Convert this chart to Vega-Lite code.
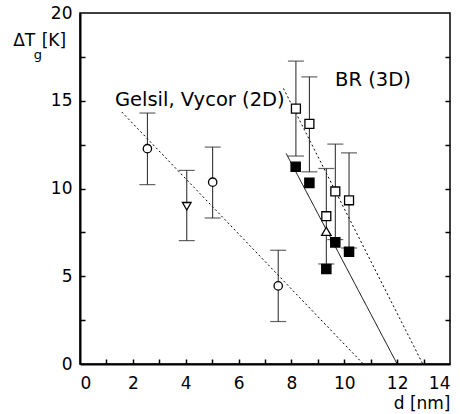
{
  "$schema": "https://vega.github.io/schema/vega-lite/v6.json",
  "width": 370,
  "height": 351,
  "autosize": "none",
  "padding": {"left": 80, "top": 13, "right": 10, "bottom": 50},
  "background": "white",
  "config": {
    "view": {"stroke": "black", "strokeWidth": 1.5},
    "font": "DejaVu Sans",
    "axis": {"grid": false, "labelFont": "DejaVu Sans", "titleFont": "DejaVu Sans", "labelColor": "black", "titleColor": "black", "domainColor": "black"}
  },
  "datasets": {
    "pts": [
      {"d": 2.55, "t": 12.27, "lo": 10.22, "hi": 14.3, "kind": "Gelsil"},
      {"d": 5.02, "t": 10.36, "lo": 8.32, "hi": 12.36, "kind": "Gelsil"},
      {"d": 7.5, "t": 4.45, "lo": 2.42, "hi": 6.48, "kind": "Gelsil"},
      {"d": 4.04, "t": 8.99, "lo": 7.03, "hi": 11.03, "kind": "Vycor"},
      {"d": 8.17, "t": 14.55, "lo": 11.85, "hi": 17.26, "kind": "BR open"},
      {"d": 8.68, "t": 13.68, "lo": 10.95, "hi": 16.36, "kind": "BR open"},
      {"d": 9.32, "t": 8.42, "lo": 5.7, "hi": 11.14, "kind": "BR open"},
      {"d": 9.66, "t": 9.83, "lo": 7.09, "hi": 12.53, "kind": "BR open"},
      {"d": 10.18, "t": 9.33, "lo": 6.61, "hi": 12.03, "kind": "BR open"},
      {"d": 8.16, "t": 11.24, "kind": "BR filled"},
      {"d": 8.68, "t": 10.32, "kind": "BR filled"},
      {"d": 9.32, "t": 5.41, "kind": "BR filled"},
      {"d": 9.66, "t": 6.93, "kind": "BR filled"},
      {"d": 10.18, "t": 6.4, "kind": "BR filled"},
      {"d": 9.32, "t": 7.56, "kind": "BR tri"}
    ],
    "fits": [
      {"series": "2D", "style": "dotted", "d": 1.58, "t": 14.36},
      {"series": "2D", "style": "dotted", "d": 10.72, "t": 0},
      {"series": "3D solid", "style": "solid", "d": 7.8, "t": 12.0},
      {"series": "3D solid", "style": "solid", "d": 12.0, "t": 0},
      {"series": "3D dotted", "style": "dotted", "d": 7.7, "t": 15.7},
      {"series": "3D dotted", "style": "dotted", "d": 12.97, "t": 0}
    ],
    "notes": [
      {"d": 1.32, "t": 15.05, "text": "Gelsil, Vycor (2D)"},
      {"d": 9.65, "t": 16.2, "text": "BR (3D)"}
    ],
    "ytitle": [
      {"d": -2.53, "t": 18.4, "text": "ΔT"},
      {"d": -1.45, "t": 18.4, "text": "[K]"}
    ],
    "sub": [
      {"d": -1.75, "t": 17.6, "text": "g"}
    ]
  },
  "resolve": {"axis": {"x": "independent", "y": "independent"}},
  "layer": [
    {
      "data": {"name": "fits"},
      "mark": {"type": "line", "color": "black", "strokeWidth": 1},
      "encoding": {
        "x": {"field": "d", "type": "quantitative", "scale": {"domain": [0, 14]},
          "axis": {"orient": "bottom", "values": [0,2,4,6,8,10,12,14], "ticks": false, "tickSize": 0, "domainWidth": 2, "labelFontSize": 17, "labelPadding": 11, "title": "d [nm]", "titleFontSize": 17, "titleFontWeight": "normal", "titleAnchor": "end", "titlePadding": 4, "zindex": 1}},
        "y": {"field": "t", "type": "quantitative", "scale": {"domain": [0, 20]},
          "axis": {"orient": "left", "values": [0,5,10,15,20], "ticks": false, "tickSize": 0, "domainWidth": 2, "labelFontSize": 17, "labelPadding": 8, "title": null, "zindex": 1}},
        "detail": {"field": "series"},
        "strokeDash": {"field": "style", "type": "nominal", "scale": {"domain": ["solid", "dotted"], "range": [[1, 0], [2, 2.5]]}, "legend": null}
      }
    },
    {
      "data": {"name": "pts"},
      "transform": [{"filter": "isValid(datum.lo)"}],
      "mark": {"type": "rule", "color": "#222", "strokeWidth": 1},
      "encoding": {
        "x": {"field": "d", "type": "quantitative",
          "axis": {"orient": "bottom", "offset": -5, "values": [1,2,3,4,5,6,7,8,9,10,11,12,13], "ticks": true, "labels": false, "domain": false, "tickSize": 5, "tickWidth": 1.5, "tickColor": "black", "title": null, "zindex": 1}},
        "y": {"field": "lo", "type": "quantitative",
          "axis": {"orient": "right", "offset": -5, "values": [2.5,5,7.5,10,12.5,15,17.5], "ticks": true, "labels": false, "tickSize": 5, "tickWidth": 1.5, "tickColor": "black", "domain": false, "title": null, "zindex": 1}},
        "y2": {"field": "hi"}
      }
    },
    {
      "data": {"name": "pts"},
      "transform": [{"filter": "isValid(datum.lo)"}],
      "mark": {"type": "tick", "orient": "horizontal", "size": 16, "thickness": 1.2, "color": "#222"},
      "encoding": {
        "x": {"field": "d", "type": "quantitative", "axis": null},
        "y": {"field": "lo", "type": "quantitative",
          "axis": {"orient": "left", "offset": -5, "values": [2.5,5,7.5,10,12.5,15,17.5], "ticks": true, "labels": false, "tickSize": 5, "tickWidth": 1.5, "tickColor": "black", "domain": false, "title": null, "zindex": 1}}
      }
    },
    {
      "data": {"name": "pts"},
      "transform": [{"filter": "isValid(datum.hi)"}],
      "mark": {"type": "tick", "orient": "horizontal", "size": 16, "thickness": 1.2, "color": "#222"},
      "encoding": {
        "x": {"field": "d", "type": "quantitative", "axis": null},
        "y": {"field": "hi", "type": "quantitative", "axis": null}
      }
    },
    {
      "data": {"name": "pts"},
      "mark": {"type": "point", "filled": false, "stroke": "black", "strokeWidth": 1.3, "opacity": 1, "fillOpacity": 1},
      "encoding": {
        "x": {"field": "d", "type": "quantitative", "axis": null},
        "y": {"field": "t", "type": "quantitative", "axis": null},
        "shape": {"field": "kind", "type": "nominal", "scale": {"domain": ["Gelsil", "Vycor", "BR open", "BR filled", "BR tri"], "range": ["circle", "triangle-down", "square", "square", "triangle-up"]}, "legend": null},
        "fill": {"field": "kind", "type": "nominal", "scale": {"domain": ["Gelsil", "Vycor", "BR open", "BR filled", "BR tri"], "range": ["white", "white", "white", "black", "white"]}, "legend": null},
        "size": {"field": "kind", "type": "nominal", "scale": {"domain": ["Gelsil", "Vycor", "BR open", "BR filled", "BR tri"], "range": [70, 90, 85, 85, 90]}, "legend": null}
      }
    },
    {
      "data": {"name": "notes"},
      "mark": {"type": "text", "align": "left", "baseline": "middle", "fontSize": 19.5, "font": "DejaVu Sans", "color": "black"},
      "encoding": {
        "x": {"field": "d", "type": "quantitative", "axis": null},
        "y": {"field": "t", "type": "quantitative", "axis": null},
        "text": {"field": "text"}
      }
    },
    {
      "data": {"name": "ytitle"},
      "mark": {"type": "text", "align": "left", "baseline": "middle", "fontSize": 17, "font": "DejaVu Sans", "color": "black"},
      "encoding": {
        "x": {"field": "d", "type": "quantitative", "axis": null},
        "y": {"field": "t", "type": "quantitative", "axis": null},
        "text": {"field": "text"}
      }
    },
    {
      "data": {"name": "sub"},
      "mark": {"type": "text", "align": "left", "baseline": "middle", "fontSize": 13, "font": "DejaVu Sans", "color": "black"},
      "encoding": {
        "x": {"field": "d", "type": "quantitative", "axis": null},
        "y": {"field": "t", "type": "quantitative", "axis": null},
        "text": {"field": "text"}
      }
    }
  ]
}
